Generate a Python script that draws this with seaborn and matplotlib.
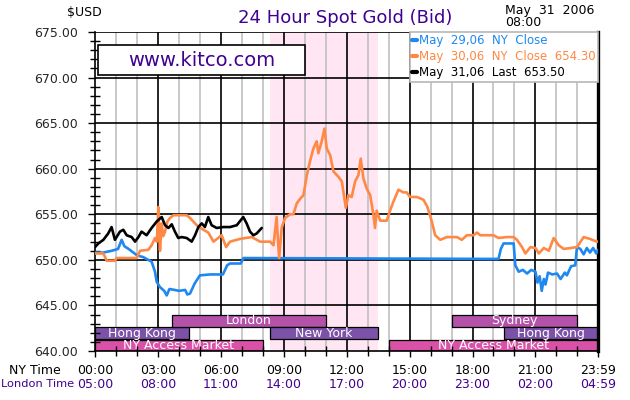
import matplotlib
matplotlib.use("Agg")
import matplotlib.pyplot as plt
from matplotlib.lines import Line2D
from matplotlib.patches import Rectangle
from matplotlib.transforms import blended_transform_factory
import seaborn as sns
import pandas as pd

sns.set_style("white")
plt.rcParams['font.family'] = ['DejaVu Sans']

# ---------------- data ----------------
may29_t = [0, 0.4, 0.8, 1.1, 1.27, 1.4, 1.6, 2.0, 2.3, 2.7, 2.86, 2.94, 3.1, 3.3, 3.42, 3.55, 3.8,
           4.0, 4.3, 4.4, 4.53, 4.75, 5.0, 5.5, 6.1, 6.3, 6.44, 6.95, 7.08, 19.24, 19.35, 19.48,
           19.96, 20.04, 20.2, 20.4, 20.6, 20.8, 21.0, 21.1, 21.2, 21.3, 21.4, 21.48, 21.6, 21.8,
           22.03, 22.2, 22.4, 22.5, 22.7, 22.9, 22.98, 23.14, 23.3, 23.45, 23.6, 23.75, 23.9, 23.98]
may29_v = [650.8, 650.8, 651.0, 651.2, 652.2, 651.5, 651.2, 650.5, 650.3, 649.8, 648.7, 647.6, 647.0,
           646.6, 646.1, 646.8, 646.7, 646.6, 646.7, 646.2, 646.3, 647.4, 648.3, 648.4, 648.4, 649.4,
           649.6, 649.6, 650.2, 650.1, 651.2, 651.8, 651.8, 649.4, 648.7, 648.9, 648.5, 648.9, 648.7,
           647.5, 648.2, 646.6, 647.9, 647.3, 648.6, 648.4, 648.5, 647.9, 648.6, 648.3, 649.3, 649.4,
           651.4, 651.2, 650.6, 651.3, 650.8, 651.3, 650.7, 651.1]

may30_t = [0.0, 0.4, 0.56, 0.95, 1.03, 1.99, 2.15, 2.54, 2.7, 2.86, 2.95, 3.02, 3.07, 3.1, 3.18,
           3.25, 3.34, 3.45, 3.58, 3.74, 4.1, 4.37, 4.53, 4.85, 5.17, 5.4, 5.65, 6.04, 6.25, 6.44,
           6.92, 7.47, 7.87, 8.11, 8.35, 8.51, 8.66, 8.72, 8.78, 8.9, 9.06, 9.3, 9.46, 9.62, 9.78,
           9.94, 10.1, 10.25, 10.41, 10.57, 10.65, 10.81, 10.94, 11.05, 11.21, 11.37, 11.61, 11.77,
           11.84, 11.96, 12.08, 12.24, 12.4, 12.56, 12.67, 12.8, 12.96, 13.12, 13.28, 13.35, 13.43,
           13.6, 13.91, 14.07, 14.23, 14.47, 14.7, 14.86, 15.02, 15.34, 15.66, 15.85, 16.06, 16.22,
           16.46, 16.78, 17.26, 17.49, 17.73, 18.05, 18.21, 18.37, 19.0, 19.24, 19.64, 19.96, 20.12,
           20.36, 20.52, 20.76, 21.0, 21.16, 21.4, 21.64, 21.87, 22.11, 22.35, 22.67, 22.98, 23.3,
           23.6, 23.92, 23.98]
may30_v = [650.7, 650.7, 649.9, 649.9, 650.2, 650.2, 651.0, 651.1, 651.6, 652.4, 652.0, 655.8, 652.5,
           651.0, 654.0, 652.6, 653.1, 654.2, 654.6, 654.9, 654.9, 654.9, 654.6, 653.8, 653.3, 653.0,
           652.0, 652.7, 651.4, 652.0, 652.3, 652.5, 652.0, 652.0, 652.0, 651.6, 654.7, 652.3, 650.2,
           653.5, 654.6, 655.0, 655.0, 656.2, 656.7, 657.1, 659.3, 660.8, 662.2, 663.0, 661.7, 663.0,
           664.4, 662.2, 661.5, 659.7, 659.1, 658.6, 657.5, 655.7, 657.1, 656.9, 658.6, 659.3, 661.1,
           658.9, 657.8, 657.1, 654.9, 653.5, 655.4, 654.3, 654.3, 655.4, 656.4, 657.7, 657.4, 657.4,
           656.9, 656.9, 656.6, 655.8, 654.2, 652.7, 652.2, 652.5, 652.5, 652.2, 652.7, 652.7, 653.0,
           652.7, 652.7, 652.4, 652.5, 652.5, 652.2, 651.4, 650.7, 651.4, 651.3, 650.7, 651.3, 651.0,
           652.4, 651.6, 651.2, 651.3, 651.4, 652.5, 652.3, 652.0, 652.0]

may31_t = [0.0, 0.16, 0.4, 0.63, 0.79, 0.95, 1.19, 1.35, 1.51, 1.75, 1.91, 2.07, 2.22, 2.46, 2.7,
           2.94, 3.18, 3.34, 3.5, 3.66, 3.81, 3.97, 4.13, 4.37, 4.61, 4.77, 4.93, 5.09, 5.24, 5.4,
           5.56, 5.8, 6.12, 6.44, 6.76, 7.07, 7.23, 7.39, 7.55, 7.71, 7.95]
may31_v = [651.4, 651.8, 652.2, 652.9, 653.6, 652.2, 653.1, 653.3, 652.7, 652.5, 652.0, 652.5, 653.1,
           652.7, 653.5, 654.2, 654.7, 653.8, 653.5, 653.9, 653.1, 652.4, 652.5, 652.4, 652.0, 652.7,
           653.6, 654.0, 653.6, 654.7, 653.8, 653.5, 653.6, 653.6, 653.8, 654.7, 654.0, 653.1, 652.7,
           652.9, 653.5]

series_labels = ["May  29,06  NY  Close", "May  30,06  NY  Close  654.30", "May  31,06  Last  653.50"]
series_colors = ["#1e88f0", "#ff8844", "#000000"]

session_names = ["NY Access Market", "Hong Kong", "London", "New York", "Sydney", "Hong Kong", "NY Access Market"]
session_start = [0.0, 0.0, 3.67, 8.33, 17.0, 19.5, 14.0]
session_end = [8.0, 4.5, 11.0, 13.5, 23.0, 23.983, 23.983]
session_row = [0, 1, 2, 1, 2, 1, 0]
session_colors = ["#da52a8", "#7b52a8", "#b452aa", "#7b52a8", "#b452aa", "#7b52a8", "#da52a8"]

ny_ticks = [0, 3, 6, 9, 12, 15, 18, 21, 23.983]
ny_labels = ["00:00", "03:00", "06:00", "09:00", "12:00", "15:00", "18:00", "21:00", "23:59"]
london_labels = ["05:00", "08:00", "11:00", "14:00", "17:00", "20:00", "23:00", "02:00", "04:59"]
y_ticks = [640, 645, 650, 655, 660, 665, 670, 675]

comex_start, comex_end = 8.33, 13.5

purple = "#400090"

# ---------------- figure ----------------
fig = plt.figure(figsize=(6.3, 4.0), dpi=100)
ax = fig.add_axes([95/630, 49/400, 503/630, 319/400])
ax.set_xlim(0, 23.983)
ax.set_ylim(640, 675)
ax.set_facecolor("white")

ax.axvspan(comex_start, comex_end, color="#ffe6f2", zorder=0.1, lw=0)

# grid
for h in range(1, 24):
    if h % 3:
        ax.axvline(h, color="#c0c0c0", lw=1.2, zorder=0.5)
for h in ny_ticks[1:-1]:
    ax.axvline(h, color="black", lw=1.2, zorder=0.6)
for yv in y_ticks[1:]:
    ax.axhline(yv, color="black", lw=1.2, zorder=0.6)

# lines
for t, v, c in [(may29_t, may29_v, series_colors[0]),
                (may30_t, may30_v, series_colors[1]),
                (may31_t, may31_v, series_colors[2])]:
    df = pd.DataFrame({"t": t, "v": v})
    sns.lineplot(data=df, x="t", y="v", ax=ax, color=c, lw=1.9, estimator=None,
                 sort=False, legend=False, zorder=3)

# session bars
row_bottom = [640.0, 641.3, 642.63]
row_h = [1.25, 1.33, 1.33]
for name, s, e, r, c in zip(session_names, session_start, session_end, session_row, session_colors):
    ax.barh(row_bottom[r] + row_h[r] / 2, e - s, left=s, height=row_h[r], color=c,
            edgecolor="black", lw=0.9, zorder=2)
    ax.text((s + e) / 2, row_bottom[r] + row_h[r] / 2, name, color="white", fontsize=9,
            ha="center", va="center", zorder=2.1)

ax.set_xlabel("")
ax.set_ylabel("")

# ticks
ax.set_xticks(ny_ticks)
ax.set_xticklabels([])
ax.set_xticks([h for h in range(1, 24) if h % 3], minor=True)
ax.tick_params(axis="x", which="major", direction="out", length=4.5, width=1, color="black")
ax.tick_params(axis="x", which="minor", direction="inout", length=7, width=1, color="black")
ax.set_yticks(y_ticks)
ax.set_yticklabels([f"{v:.2f}" for v in y_ticks], fontsize=9)
ax.set_yticks([v for v in range(641, 675) if v % 5], minor=True)
ax.tick_params(axis="y", which="major", direction="out", length=5, width=1, pad=7, color="black")
ax.tick_params(axis="y", which="minor", direction="inout", length=6.5, width=1, color="black")
ax.tick_params(which="both", bottom=True, left=True)

trans = blended_transform_factory(ax.transData, ax.transAxes)
for t, a, b in zip(ny_ticks, ny_labels, london_labels):
    ax.text(t, -19/319, a, transform=trans, ha="center", va="center", fontsize=9, color="black")
    ax.text(t, -33/319, b, transform=trans, ha="center", va="center", fontsize=9, color=purple)

fig.text(35/630, 1 - 370/400, "NY Time", ha="center", va="center", fontsize=9, color="black")
fig.text(1/630, 1 - 384/400, "London Time", ha="left", va="center", fontsize=8.2, color=purple)

# spines
for side in ["left", "bottom"]:
    ax.spines[side].set_color("black")
    ax.spines[side].set_linewidth(1.2)
ax.spines["top"].set_visible(False)
ax.spines["right"].set_color("black")
ax.spines["right"].set_linewidth(2.4)
ax.set_axisbelow(False)

# kitco box
ax.add_patch(Rectangle((3/503, (351-75)/319), 207/503, 30/319, transform=ax.transAxes,
                       facecolor="white", edgecolor="black", lw=1.2, zorder=6))
ax.text(106.5/503, (351-60)/319, "www.kitco.com", transform=ax.transAxes, ha="center",
        va="center", fontsize=14, color=purple, zorder=7)

# legend
handles = [Line2D([], [], color=c, lw=3) for c in series_colors]
leg = ax.legend(handles, series_labels, loc="upper right", bbox_to_anchor=(1.0, 1.0),
                frameon=True, fancybox=False, edgecolor="#b8b8b8", framealpha=1,
                handlelength=0.45, handletextpad=0.15, borderpad=0.2, labelspacing=0.25,
                borderaxespad=0, fontsize=8.5, labelcolor=series_colors)
leg.set_zorder(10)
leg.get_frame().set_linewidth(1.2)

# titles
fig.text(345/630, 1 - 18/400, "24 Hour Spot Gold (Bid)", ha="center", va="center",
         fontsize=13, color=purple)
fig.text(84/630, 1 - 13/400, "$USD", ha="center", va="center", fontsize=9, color="black")
fig.text(505/630, 1 - 4/400, "May  31  2006\n08:00", ha="left", va="top", fontsize=9,
         color="black", linespacing=0.9)

fig.savefig("out.png", dpi=100, facecolor="white")
